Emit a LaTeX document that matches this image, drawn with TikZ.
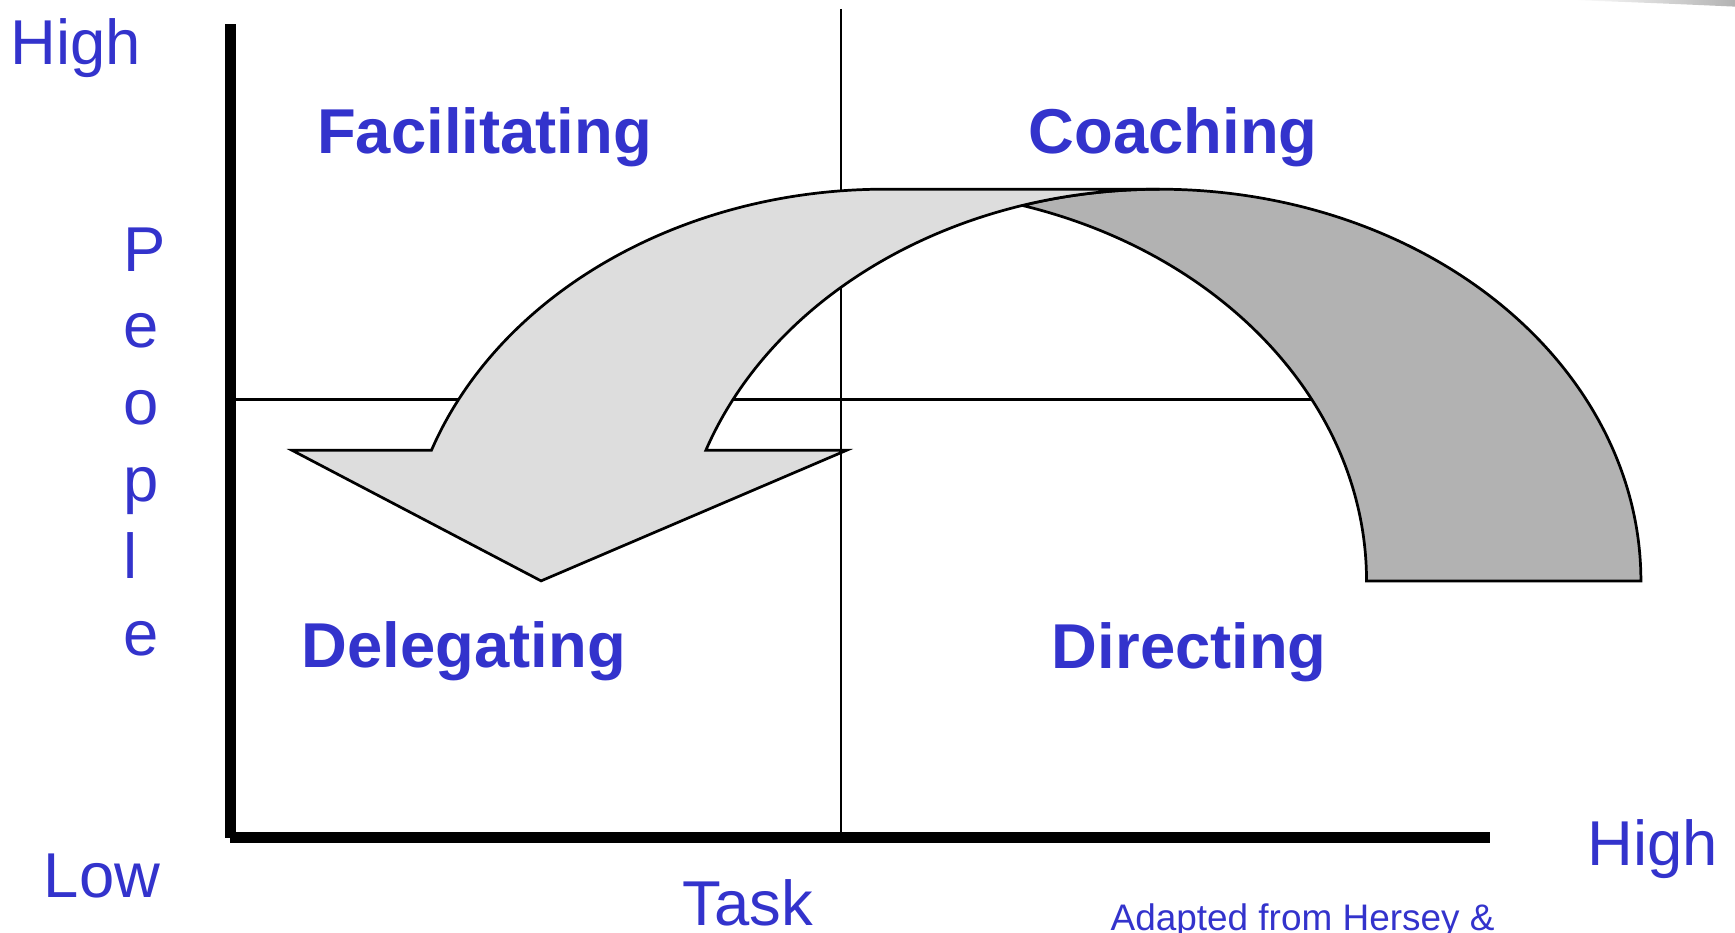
\documentclass[tikz,border=0pt]{standalone}
\usepackage{fontspec}
\setmainfont{Liberation Sans}
\usepackage{tikz}
\usetikzlibrary{positioning}
\usepackage{xcolor}
\definecolor{lblblue}{HTML}{3333CC}
\definecolor{frontfill}{HTML}{DDDDDD}
\definecolor{backfill}{HTML}{B2B2B2}
\tikzset{
  axisline/.style={line width=1mm},
  divider/.style ={line width=0.6pt},
  quad/.style    ={text=lblblue, font=\fontsize{16.3}{19}\selectfont\bfseries,
                   inner sep=0pt, anchor=base west},
  lbl/.style     ={text=lblblue, font=\fontsize{16.3}{19}\selectfont,
                   inner sep=0pt, anchor=base west},
  note/.style    ={text=lblblue, font=\fontsize{9.5}{11}\selectfont,
                   inner sep=0pt, anchor=base west},
  front/.style   ={draw=black, fill=frontfill, line width=0.7pt},
  back/.style    ={draw=black, fill=backfill, line width=0.7pt},
}

\begin{document}
\begin{tikzpicture}[x=0.1mm, y=0.1mm]
    \useasboundingbox (0,0) rectangle (1568,843);
    % faint streak in the top corner
    \shade[left color=white, right color=gray!60]
        (1420,843) -- (1568,843) -- (1568,837) .. controls (1500,840) .. (1420,843);
    % quadrant dividers
    \draw[divider] (760,835) -- (760,86);
    \draw[divider] (208,482) -- (1347,482);
    % curved arrow: back band, then front band with the head
    \draw[back] (924,657.3) arc[start angle=106.56, end angle=0, x radius=435, y radius=354]
        -- (1235,318) arc[start angle=0, end angle=73.44, x radius=435, y radius=354] -- cycle;
    \draw[front] (389.9,436) arc[start angle=160.53, end angle=90, x radius=435, y radius=354]
        -- (1048,672) arc[start angle=90, end angle=160.53, x radius=435, y radius=354]
        -- (765,436) -- (489,318) -- (264,436) -- cycle;
    % axes
    \draw[axisline] (208,821) -- (208,86);
    \draw[axisline] (208,86) -- (1347,86);
    % quadrant labels
    \node[quad] (facil) at (286,704) {Facilitating};
    \node[quad] (coach) at (929,704) {Coaching};
    \node[quad] (deleg) at (272,240) {Delegating};
    \node[quad] (direct) at (950,239) {Directing};
    % axis labels
    \node[lbl] (peoplehigh) at (9,785) {High};
    \node[lbl] (peoplelow) at (39,32) {Low};
    \node[lbl] (tasklab) at (616,7) {Task};
    \node[lbl] (taskhigh) at (1434,61) {High};
    \foreach \ch [count=\i] in {P,e,o,p,l,e}
        \node[lbl] (people\i) at (111,{598-(\i-1)*69.4}) {\ch};
    \node[note] (credit) at (1003,2) {Adapted from Hersey \&};
\end{tikzpicture}
\end{document}
